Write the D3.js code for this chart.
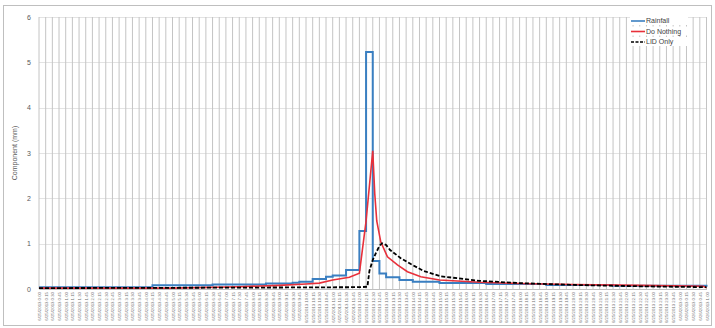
<!DOCTYPE html>
<html>
<head>
<meta charset="utf-8">
<script src="https://cdn.jsdelivr.net/npm/d3@7"></script>
<style>
  html, body { margin: 0; padding: 0; background: #fff; }
  svg { display: block; font-family: "Liberation Sans", Arial, sans-serif; }
</style>
</head>
<body>
<svg id="chart" width="715" height="328"></svg>
<script>
// categories: 101 time stamps, 15 minutes apart
const startTime = new Date(2013, 5, 25, 0, 0);
const stepMinutes = 15;
const categoryCount = 101;
const yTicks = [0, 1, 2, 3, 4, 5, 6];

// series values as [minutes from start, mm]
const rainfall = [
  [0, 0.04], [255, 0.08], [390, 0.10], [510, 0.12], [570, 0.14], [585, 0.16],
  [615, 0.22], [645, 0.27], [660, 0.30], [690, 0.42], [720, 1.28], [735, 5.23],
  [750, 0.62], [765, 0.34], [780, 0.26], [810, 0.20], [840, 0.16], [900, 0.13],
  [1005, 0.11], [1140, 0.09], [1290, 0.07], [1500, 0.05]
];
const doNothing = [
  [0, 0.02], [300, 0.02], [450, 0.05], [540, 0.08], [600, 0.11], [630, 0.13],
  [660, 0.20], [697.5, 0.26], [720, 0.35], [735, 1.5], [750, 3.05], [754.5, 2.1],
  [759, 1.5], [768, 1.04], [783, 0.71], [805.5, 0.53], [828, 0.38], [858, 0.27],
  [900, 0.20], [990, 0.15], [1080, 0.12], [1200, 0.10], [1350, 0.08],
  [1492.5, 0.06], [1500, 0.03]
];
const lidOnly = [
  [0, 0.02], [450, 0.03], [720, 0.04], [738, 0.05], [742.5, 0.4], [750, 0.64],
  [757.5, 0.8], [765, 0.95], [771, 1.01], [780, 0.97], [789, 0.86], [813, 0.68],
  [835.5, 0.55], [864, 0.40], [903, 0.28], [990, 0.18], [1080, 0.13],
  [1200, 0.09], [1350, 0.06], [1500, 0.04]
];

const seriesNames = ["Rainfall", "Do Nothing", "LID Only"];

const categories = d3.range(categoryCount).map(i => i * stepMinutes);
const fmt = d3.timeFormat("%-m/%-d/%Y %-H:%M");
const tickLabels = categories.map(m => fmt(new Date(+startTime + m * 60000)));

const svg = d3.select("#chart");
const margin = { top: 17, right: 8.5, bottom: 39, left: 39 };
const W = 715, H = 328;

// outer chart border
svg.append("rect")
  .attr("x", 3.5).attr("y", 5.5)
  .attr("width", 708).attr("height", 320)
  .attr("fill", "none").attr("stroke", "#bfbfbf");

const x = d3.scaleLinear()
  .domain([0, (categoryCount - 1) * stepMinutes])
  .range([margin.left, W - margin.right]);
const y = d3.scaleLinear()
  .domain([0, 6])
  .range([H - margin.bottom, margin.top]);

// horizontal gridlines
svg.append("g")
  .selectAll("line")
  .data(yTicks)
  .join("line")
  .attr("x1", margin.left).attr("x2", W - margin.right)
  .attr("y1", d => Math.round(y(d)) + 0.5).attr("y2", d => Math.round(y(d)) + 0.5)
  .attr("stroke", "#e3e3e3");

// vertical gridlines, one per category
svg.append("g")
  .selectAll("line")
  .data(categories)
  .join("line")
  .attr("x1", d => x(d)).attr("x2", d => x(d))
  .attr("y1", y(6)).attr("y2", y(0))
  .attr("stroke", "#c4c4c4")
  .attr("stroke-width", 1);

// y axis
const yAxis = svg.append("g")
  .attr("transform", `translate(${margin.left},0)`)
  .call(d3.axisLeft(y).tickValues(yTicks).tickFormat(d3.format("d")).tickSize(0).tickPadding(8));
yAxis.select(".domain").remove();
yAxis.selectAll("text")
  .attr("font-size", 7)
  .attr("fill", "#595959")
  .attr("font-family", "Liberation Sans, Arial, sans-serif");

// x axis with rotated time stamps
const xAxis = svg.append("g")
  .attr("transform", `translate(0,${y(0)})`)
  .call(d3.axisBottom(x).tickValues(categories).tickSize(0).tickFormat((d, i) => tickLabels[i]));
xAxis.select(".domain").attr("stroke", "#bfbfbf");
xAxis.selectAll("text")
  .attr("font-size", 4.3)
  .attr("fill", "#707070")
  .attr("font-family", "Liberation Sans, Arial, sans-serif")
  .attr("transform", "rotate(-90)")
  .attr("text-anchor", "end")
  .attr("dy", "0.35em")
  .attr("dx", 0)
  .attr("x", -3)
  .attr("y", 0);

// axis title
svg.append("text")
  .attr("transform", `translate(17,${(y(0) + y(6)) / 2}) rotate(-90)`)
  .attr("text-anchor", "middle")
  .attr("font-size", 7)
  .attr("fill", "#595959")
  .text("Component (mm)");

// lines
const stepLine = d3.line()
  .x(d => x(d[0])).y(d => y(d[1]))
  .curve(d3.curveStepAfter);
const plainLine = d3.line()
  .x(d => x(d[0])).y(d => y(d[1]));

svg.append("path")
  .datum(rainfall)
  .attr("d", stepLine)
  .attr("fill", "none")
  .attr("stroke", "#3a7fc1")
  .attr("stroke-width", 2);

svg.append("path")
  .datum(doNothing)
  .attr("d", plainLine)
  .attr("fill", "none")
  .attr("stroke", "#e8303a")
  .attr("stroke-width", 1.6);

svg.append("path")
  .datum(lidOnly)
  .attr("d", plainLine)
  .attr("fill", "none")
  .attr("stroke", "#000")
  .attr("stroke-width", 1.8)
  .attr("stroke-dasharray", "4,2");

// legend
const legendStyles = [
  { color: "#3a7fc1", dash: null },
  { color: "#e8303a", dash: null },
  { color: "#000", dash: "3,1.5" }
];
const legend = svg.append("g").attr("transform", "translate(631,21)");
seriesNames.forEach((name, i) => {
  const row = legend.append("g").attr("transform", `translate(0,${i * 10.5})`);
  row.append("rect")
    .attr("x", -1).attr("y", -5).attr("width", 58).attr("height", 9)
    .attr("fill", "#fff");
  row.append("line")
    .attr("x1", 0).attr("x2", 14)
    .attr("stroke", legendStyles[i].color)
    .attr("stroke-width", 1.6)
    .attr("stroke-dasharray", legendStyles[i].dash);
  row.append("text")
    .attr("x", 15).attr("y", 0).attr("dy", "0.35em")
    .attr("font-size", 7)
    .attr("fill", "#404040")
    .text(name);
});
</script>
</body>
</html>
